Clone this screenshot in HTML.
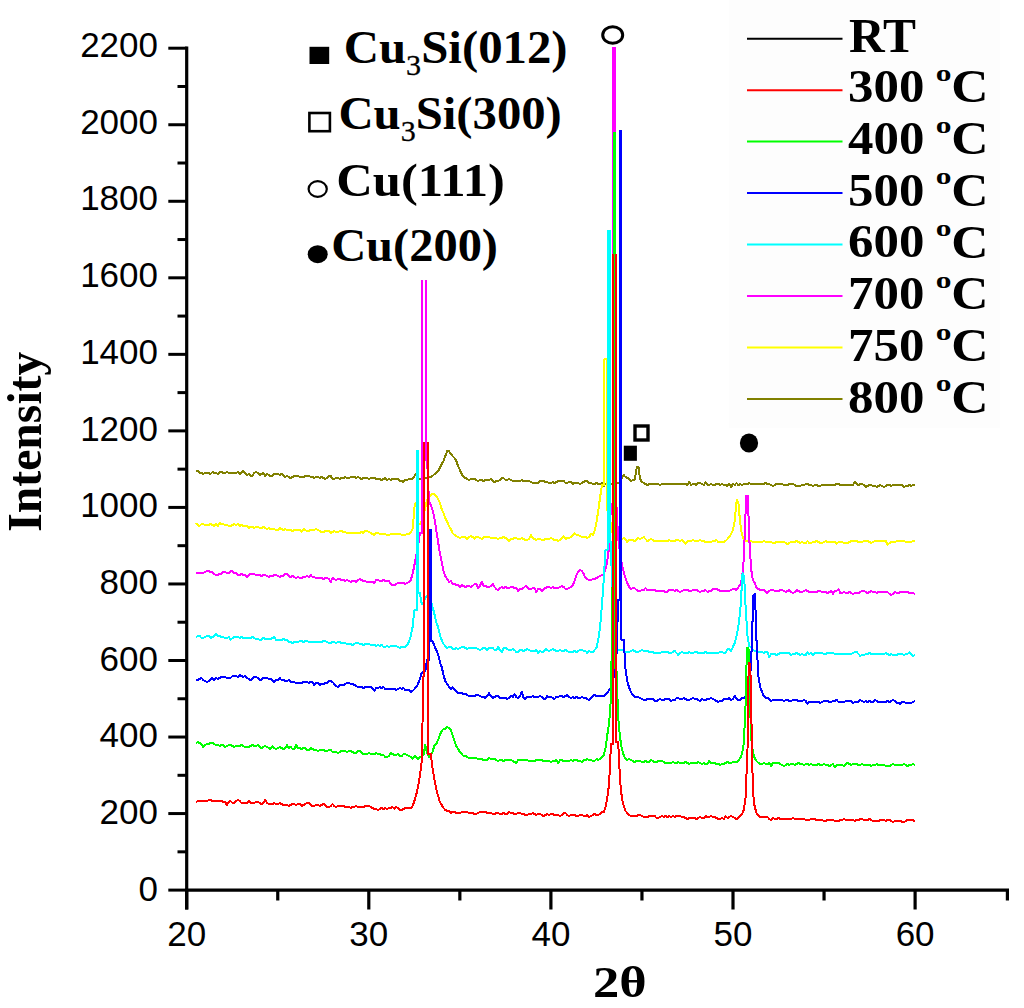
<!DOCTYPE html>
<html><head><meta charset="utf-8"><title>XRD</title>
<style>html,body{margin:0;padding:0;background:#fff;width:1024px;height:1008px;overflow:hidden} svg{display:block}</style>
</head><body>
<svg width="1024" height="1008" viewBox="0 0 1024 1008">
<style>
.tk { font-family: "Liberation Sans", sans-serif; font-size: 35px; fill:#000; }
.bs { font-family: "Liberation Serif", serif; font-weight: bold; font-size: 47px; fill:#000; }
</style>
<rect width="1024" height="1008" fill="#fff"/>
<rect x="729" y="0" width="271" height="428" fill="#fdfdfd"/>
<g fill="none" stroke="#808000" stroke-width="2" stroke-linejoin="round" shape-rendering="crispEdges"><polyline points="196.0,471.0 197.8,471.0 199.6,473.0 201.5,473.0 203.3,474.0 205.1,473.0 206.9,473.0 208.7,473.0 210.6,474.0 212.4,472.0 214.2,473.0 216.0,473.0 217.8,474.0 219.7,472.0 221.5,472.0 223.3,473.0 225.1,473.0 226.9,472.0 228.8,473.0 230.6,473.0 232.4,473.0 234.2,473.0 236.0,473.0 237.9,472.0 239.7,474.0 241.5,473.0 243.3,471.0 245.1,473.0 247.0,475.0 248.8,474.0 250.6,476.0 252.4,476.0 254.2,473.0 256.1,472.0 257.9,473.0 259.7,475.0 261.5,474.0 263.3,473.0 265.2,476.0 267.0,474.0 268.8,475.0 270.6,476.0 272.4,476.0 274.3,474.0 276.1,474.0 277.9,474.0 279.7,475.0 281.5,474.0 283.4,475.0 285.2,477.0 287.0,476.0 288.8,477.0 290.6,478.0 292.5,477.0 294.3,476.0 296.1,476.0 297.9,476.0 299.7,477.0 301.6,477.0 303.4,477.0 305.2,476.0 307.0,476.0 308.8,476.0 310.7,477.0 312.5,477.0 314.3,478.0 316.1,477.0 317.9,477.0 319.8,478.0 321.6,477.0 323.4,478.0 325.2,479.0 327.0,478.0 328.9,476.0 330.7,476.0 332.5,479.0 334.3,479.0 336.1,478.0 338.0,478.0 339.8,479.0 341.6,478.0 343.4,478.0 345.2,477.0 347.1,478.0 348.9,478.0 350.7,477.0 352.5,477.0 354.3,477.0 356.2,478.0 358.0,477.0 359.8,478.0 361.6,479.0 363.4,478.0 365.3,478.0 367.1,478.0 368.9,479.0 370.7,478.0 372.5,478.0 374.4,478.0 376.2,479.0 378.0,479.0 379.8,479.0 381.6,480.0 383.5,479.0 385.3,478.0 387.1,480.0 388.9,479.0 390.7,480.0 392.6,479.0 394.4,479.0 396.2,479.0 398.0,479.0 399.8,481.0 401.7,481.0 403.5,482.0 405.3,480.0 407.1,480.0 408.9,479.0 410.8,479.0 412.6,479.0 414.4,476.0 416.2,474.0 418.0,478.0 419.9,479.0 421.7,479.0 423.5,479.0 425.3,478.0 427.1,478.0 429.0,477.0 430.8,477.0 432.6,476.0 434.4,474.0 436.2,473.0 438.1,471.0 439.9,468.0 441.7,464.0 443.5,461.0 445.3,456.0 447.2,451.0 449.0,451.0 450.8,454.0 452.6,456.0 454.4,458.0 456.3,461.0 458.1,466.0 459.9,470.0 461.7,474.0 463.5,477.0 465.4,478.0 467.2,479.0 469.0,480.0 470.8,479.0 472.6,479.0 474.5,479.0 476.3,480.0 478.1,481.0 479.9,480.0 481.7,480.0 483.6,481.0 485.4,480.0 487.2,480.0 489.0,480.0 490.8,479.0 492.7,481.0 494.5,482.0 496.3,481.0 498.1,481.0 499.9,480.0 501.8,478.0 503.6,478.0 505.4,480.0 507.2,480.0 509.0,479.0 510.9,480.0 512.7,481.0 514.5,481.0 516.3,481.0 518.1,481.0 520.0,481.0 521.8,480.0 523.6,481.0 525.4,481.0 527.2,481.0 529.1,481.0 530.9,482.0 532.7,483.0 534.5,483.0 536.3,483.0 538.2,483.0 540.0,481.0 541.8,481.0 543.6,481.0 545.4,482.0 547.3,482.0 549.1,483.0 550.9,483.0 552.7,482.0 554.5,483.0 556.4,482.0 558.2,481.0 560.0,481.0 561.8,481.0 563.6,481.0 565.5,483.0 567.3,483.0 569.1,482.0 570.9,482.0 572.7,484.0 574.6,483.0 576.4,483.0 578.2,483.0 580.0,484.0 581.8,483.0 583.7,482.0 585.5,481.0 587.3,481.0 589.1,483.0 590.9,483.0 592.8,484.0 594.6,484.0 596.4,483.0 598.2,484.0 600.0,484.0 601.9,483.0 603.7,486.0 605.5,484.0 607.3,483.0 609.1,483.0 611.0,484.0 612.8,484.0 614.6,483.0 616.4,483.0 618.2,483.0 620.1,482.0 621.9,478.0 623.7,475.0 625.5,477.0 627.3,478.0 629.2,479.0 631.0,481.0 632.8,480.0 634.6,480.0 636.9,467.0 638.5,467.0 640.1,479.0 641.9,482.0 643.7,483.0 645.5,484.0 647.4,485.0 649.2,484.0 651.0,484.0 652.8,484.0 654.6,484.0 656.5,484.0 658.3,484.0 660.1,485.0 661.9,484.0 663.7,484.0 665.6,484.0 667.4,484.0 669.2,484.0 671.0,484.0 672.8,484.0 674.7,484.0 676.5,484.0 678.3,484.0 680.1,484.0 681.9,484.0 683.8,484.0 685.6,484.0 687.4,485.0 689.2,482.0 691.0,485.0 692.9,484.0 694.7,484.0 696.5,485.0 698.3,483.0 700.1,483.0 702.0,484.0 703.8,485.0 705.6,482.0 707.4,485.0 709.2,485.0 711.1,484.0 712.9,485.0 714.7,485.0 716.5,484.0 718.3,484.0 720.2,485.0 722.0,484.0 723.8,485.0 725.6,485.0 727.4,486.0 729.3,484.0 731.1,487.0 732.9,484.0 734.7,485.0 736.5,483.0 738.4,485.0 740.2,484.0 742.0,485.0 743.8,484.0 745.6,484.0 747.5,484.0 749.3,483.0 751.1,484.0 752.9,484.0 754.7,484.0 756.6,484.0 758.4,484.0 760.2,484.0 762.0,484.0 763.8,484.0 765.7,483.0 767.5,484.0 769.3,484.0 771.1,485.0 772.9,486.0 774.8,485.0 776.6,484.0 778.4,484.0 780.2,484.0 782.0,484.0 783.9,485.0 785.7,485.0 787.5,485.0 789.3,484.0 791.1,484.0 793.0,484.0 794.8,485.0 796.6,486.0 798.4,486.0 800.2,486.0 802.1,485.0 803.9,485.0 805.7,484.0 807.5,484.0 809.3,485.0 811.2,485.0 813.0,486.0 814.8,485.0 816.6,485.0 818.4,486.0 820.3,486.0 822.1,485.0 823.9,485.0 825.7,485.0 827.5,485.0 829.4,485.0 831.2,485.0 833.0,485.0 834.8,485.0 836.6,484.0 838.5,484.0 840.3,485.0 842.1,485.0 843.9,485.0 845.7,485.0 847.6,485.0 849.4,485.0 851.2,485.0 853.0,485.0 854.8,482.0 856.7,484.0 858.5,485.0 860.3,484.0 862.1,484.0 863.9,485.0 865.8,487.0 867.6,486.0 869.4,485.0 871.2,485.0 873.0,486.0 874.9,486.0 876.7,487.0 878.5,486.0 880.3,485.0 882.1,486.0 884.0,487.0 885.8,486.0 887.6,485.0 889.4,485.0 891.2,486.0 893.1,485.0 894.9,485.0 896.7,485.0 898.5,485.0 900.3,485.0 902.2,485.0 904.0,487.0 905.8,486.0 907.6,486.0 909.4,485.0 911.3,486.0 913.1,485.0 914.9,485.0"/></g>
<g fill="none" stroke="#ffff00" stroke-width="2" stroke-linejoin="round" shape-rendering="crispEdges"><polyline points="196.0,523.0 197.8,525.0 199.6,526.0 201.5,524.0 203.3,524.0 205.1,525.0 206.9,525.0 208.7,525.0 210.6,524.0 212.4,525.0 214.2,526.0 216.0,524.0 217.8,526.0 219.7,523.0 221.5,524.0 223.3,524.0 225.1,525.0 226.9,525.0 228.8,526.0 230.6,526.0 232.4,525.0 234.2,524.0 236.0,525.0 237.9,524.0 239.7,526.0 241.5,525.0 243.3,526.0 245.1,526.0 247.0,526.0 248.8,528.0 250.6,527.0 252.4,527.0 254.2,528.0 256.1,527.0 257.9,527.0 259.7,528.0 261.5,528.0 263.3,527.0 265.2,528.0 267.0,529.0 268.8,528.0 270.6,529.0 272.4,529.0 274.3,529.0 276.1,530.0 277.9,530.0 279.7,528.0 281.5,529.0 283.4,530.0 285.2,529.0 287.0,530.0 288.8,530.0 290.6,530.0 292.5,531.0 294.3,530.0 296.1,530.0 297.9,530.0 299.7,530.0 301.6,532.0 303.4,529.0 305.2,530.0 307.0,531.0 308.8,531.0 310.7,530.0 312.5,530.0 314.3,530.0 316.1,529.0 317.9,530.0 319.8,531.0 321.6,532.0 323.4,532.0 325.2,531.0 327.0,531.0 328.9,531.0 330.7,533.0 332.5,532.0 334.3,531.0 336.1,532.0 338.0,532.0 339.8,531.0 341.6,531.0 343.4,532.0 345.2,532.0 347.1,533.0 348.9,533.0 350.7,533.0 352.5,533.0 354.3,533.0 356.2,533.0 358.0,533.0 359.8,533.0 361.6,532.0 363.4,533.0 365.3,531.0 367.1,531.0 368.9,532.0 370.7,533.0 372.5,534.0 374.4,535.0 376.2,533.0 378.0,533.0 379.8,534.0 381.6,534.0 383.5,534.0 385.3,534.0 387.1,535.0 388.9,535.0 390.7,534.0 392.6,534.0 394.4,534.0 396.2,534.0 398.0,534.0 399.8,534.0 401.7,535.0 403.5,535.0 405.3,535.0 407.1,534.0 408.9,534.0 410.8,532.0 412.6,529.0 414.8,504.0 416.4,503.0 418.0,523.0 419.9,524.0 421.7,521.0 423.5,515.0 425.3,508.0 427.1,500.0 429.0,497.0 430.8,495.0 432.6,494.0 434.4,494.0 436.2,496.0 438.1,499.0 439.9,503.0 441.7,509.0 443.5,513.0 445.3,518.0 447.2,522.0 449.0,526.0 450.8,529.0 452.6,533.0 454.4,535.0 456.3,536.0 458.1,537.0 459.9,538.0 461.7,537.0 463.5,537.0 465.4,537.0 467.2,539.0 469.0,537.0 470.8,536.0 472.6,537.0 474.5,539.0 476.3,537.0 478.1,537.0 479.9,538.0 481.7,539.0 483.6,537.0 485.4,537.0 487.2,537.0 489.0,537.0 490.8,538.0 492.7,538.0 494.5,538.0 496.3,538.0 498.1,539.0 499.9,538.0 501.8,538.0 503.6,537.0 505.4,538.0 507.2,539.0 509.0,541.0 510.9,539.0 512.7,539.0 514.5,538.0 516.3,538.0 518.1,539.0 520.0,539.0 521.8,538.0 523.6,539.0 525.4,540.0 527.2,540.0 529.1,539.0 530.9,535.0 532.7,538.0 534.5,539.0 536.3,540.0 538.2,539.0 540.0,539.0 541.8,540.0 543.6,540.0 545.4,539.0 547.3,539.0 549.1,539.0 550.9,538.0 552.7,539.0 554.5,540.0 556.4,540.0 558.2,541.0 560.0,540.0 561.8,538.0 563.6,536.0 565.5,539.0 567.3,538.0 569.1,538.0 570.9,537.0 572.7,535.0 574.6,533.0 576.4,535.0 578.2,535.0 580.0,536.0 581.8,537.0 583.7,537.0 585.5,537.0 587.3,538.0 589.1,537.0 590.9,534.0 592.8,535.0 594.6,531.0 596.4,523.0 598.2,511.0 600.0,498.0 601.9,485.0 604.4,485.0 604.4,359.0 606.8,359.0 606.8,510.0 609.1,510.0 611.0,526.0 612.8,534.0 614.6,538.0 616.4,538.0 618.2,539.0 620.1,539.0 621.9,539.0 623.7,538.0 625.5,539.0 627.3,542.0 629.2,540.0 631.0,540.0 632.8,540.0 634.6,541.0 636.4,540.0 638.3,538.0 640.1,539.0 641.9,538.0 643.7,537.0 645.5,539.0 647.4,541.0 649.2,540.0 651.0,539.0 652.8,540.0 654.6,541.0 656.5,541.0 658.3,541.0 660.1,541.0 661.9,541.0 663.7,541.0 665.6,541.0 667.4,541.0 669.2,540.0 671.0,541.0 672.8,541.0 674.7,541.0 676.5,540.0 678.3,540.0 680.1,541.0 681.9,540.0 683.8,542.0 685.6,544.0 687.4,541.0 689.2,541.0 691.0,541.0 692.9,540.0 694.7,541.0 696.5,541.0 698.3,541.0 700.1,540.0 702.0,541.0 703.8,541.0 705.6,542.0 707.4,542.0 709.2,542.0 711.1,542.0 712.9,541.0 714.7,541.0 716.5,540.0 718.3,542.0 720.2,542.0 722.0,542.0 723.8,542.0 725.6,541.0 727.4,539.0 729.3,537.0 731.1,534.0 732.9,530.0 734.7,521.0 736.7,500.0 738.3,502.0 740.2,523.0 742.0,535.0 743.8,539.0 745.6,541.0 747.5,541.0 749.3,541.0 751.1,541.0 752.9,542.0 754.7,542.0 756.6,542.0 758.4,542.0 760.2,542.0 762.0,542.0 763.8,541.0 765.7,542.0 767.5,542.0 769.3,542.0 771.1,542.0 772.9,543.0 774.8,543.0 776.6,542.0 778.4,542.0 780.2,542.0 782.0,542.0 783.9,542.0 785.7,543.0 787.5,544.0 789.3,543.0 791.1,542.0 793.0,542.0 794.8,542.0 796.6,541.0 798.4,542.0 800.2,543.0 802.1,542.0 803.9,543.0 805.7,543.0 807.5,541.0 809.3,543.0 811.2,543.0 813.0,542.0 814.8,542.0 816.6,541.0 818.4,542.0 820.3,543.0 822.1,543.0 823.9,542.0 825.7,541.0 827.5,542.0 829.4,542.0 831.2,542.0 833.0,542.0 834.8,542.0 836.6,544.0 838.5,542.0 840.3,542.0 842.1,542.0 843.9,543.0 845.7,543.0 847.6,543.0 849.4,542.0 851.2,541.0 853.0,541.0 854.8,541.0 856.7,541.0 858.5,542.0 860.3,542.0 862.1,542.0 863.9,541.0 865.8,541.0 867.6,541.0 869.4,542.0 871.2,543.0 873.0,542.0 874.9,541.0 876.7,541.0 878.5,541.0 880.3,541.0 882.1,541.0 884.0,541.0 885.8,541.0 887.6,545.0 889.4,543.0 891.2,542.0 893.1,542.0 894.9,542.0 896.7,541.0 898.5,541.0 900.3,541.0 902.2,541.0 904.0,541.0 905.8,542.0 907.6,542.0 909.4,542.0 911.3,542.0 913.1,541.0 914.9,541.0"/></g>
<g fill="none" stroke="#ff00ff" stroke-width="2" stroke-linejoin="round" shape-rendering="crispEdges"><polyline points="196.0,573.0 197.8,573.0 199.6,573.0 201.5,573.0 203.3,573.0 205.1,572.0 206.9,571.0 208.7,571.0 210.6,572.0 212.4,572.0 214.2,574.0 216.0,575.0 217.8,575.0 219.7,574.0 221.5,574.0 223.3,572.0 225.1,572.0 226.9,573.0 228.8,573.0 230.6,571.0 232.4,571.0 234.2,573.0 236.0,573.0 237.9,575.0 239.7,575.0 241.5,574.0 243.3,575.0 245.1,575.0 247.0,577.0 248.8,575.0 250.6,574.0 252.4,574.0 254.2,574.0 256.1,575.0 257.9,575.0 259.7,575.0 261.5,576.0 263.3,575.0 265.2,575.0 267.0,576.0 268.8,577.0 270.6,576.0 272.4,576.0 274.3,575.0 276.1,575.0 277.9,576.0 279.7,577.0 281.5,576.0 283.4,576.0 285.2,574.0 287.0,574.0 288.8,576.0 290.6,577.0 292.5,576.0 294.3,577.0 296.1,578.0 297.9,577.0 299.7,578.0 301.6,578.0 303.4,577.0 305.2,577.0 307.0,576.0 308.8,577.0 310.7,575.0 312.5,577.0 314.3,577.0 316.1,578.0 317.9,578.0 319.8,578.0 321.6,578.0 323.4,579.0 325.2,578.0 327.0,578.0 328.9,579.0 330.7,582.0 332.5,578.0 334.3,579.0 336.1,580.0 338.0,579.0 339.8,579.0 341.6,580.0 343.4,580.0 345.2,581.0 347.1,580.0 348.9,581.0 350.7,582.0 352.5,581.0 354.3,581.0 356.2,582.0 358.0,580.0 359.8,579.0 361.6,580.0 363.4,581.0 365.3,581.0 367.1,582.0 368.9,582.0 370.7,582.0 372.5,582.0 374.4,583.0 376.2,580.0 378.0,580.0 379.8,581.0 381.6,581.0 383.5,580.0 385.3,581.0 387.1,581.0 388.9,581.0 390.7,584.0 392.6,585.0 394.4,585.0 396.2,584.0 398.0,583.0 399.8,583.0 401.7,583.0 403.5,583.0 405.3,584.0 407.1,583.0 408.9,582.0 410.8,580.0 412.6,574.0 414.4,565.0 416.2,556.0 418.0,547.0 419.9,533.0 422.4,533.0 422.4,280.0"/><polyline points="426.2,280.0 426.2,460.0 427.1,460.0 429.0,501.0 430.8,505.0 432.6,510.0 434.4,518.0 436.2,530.0 438.1,542.0 439.9,553.0 441.7,562.0 443.5,571.0 445.3,576.0 447.2,579.0 449.0,582.0 450.8,581.0 452.6,584.0 454.4,584.0 456.3,585.0 458.1,585.0 459.9,587.0 461.7,585.0 463.5,586.0 465.4,587.0 467.2,586.0 469.0,586.0 470.8,587.0 472.6,586.0 474.5,584.0 476.3,584.0 478.1,588.0 479.9,586.0 481.7,582.0 483.6,586.0 485.4,586.0 487.2,587.0 489.0,587.0 490.8,586.0 492.7,584.0 494.5,587.0 496.3,589.0 498.1,590.0 499.9,588.0 501.8,587.0 503.6,588.0 505.4,587.0 507.2,588.0 509.0,588.0 510.9,587.0 512.7,587.0 514.5,588.0 516.3,588.0 518.1,591.0 520.0,589.0 521.8,589.0 523.6,588.0 525.4,586.0 527.2,587.0 529.1,589.0 530.9,589.0 532.7,588.0 534.5,588.0 536.3,592.0 538.2,589.0 540.0,589.0 541.8,591.0 543.6,589.0 545.4,588.0 547.3,587.0 549.1,587.0 550.9,588.0 552.7,587.0 554.5,588.0 556.4,588.0 558.2,588.0 560.0,587.0 561.8,586.0 563.6,587.0 565.5,589.0 567.3,589.0 569.1,588.0 570.9,587.0 572.7,585.0 574.6,581.0 576.4,575.0 578.2,572.0 580.0,570.0 581.8,571.0 583.7,574.0 585.5,578.0 587.3,579.0 589.1,580.0 590.9,580.0 592.8,579.0 594.6,579.0 596.4,578.0 598.2,577.0 600.0,576.0 601.9,575.0 603.7,574.0 605.5,569.0 607.3,561.0 609.1,547.0 611.0,504.0 612.5,504.0 612.5,47.9 614.7,47.9 614.7,505.0 616.4,505.0 618.2,539.0 620.1,553.0 621.9,564.0 623.7,572.0 625.5,578.0 627.3,583.0 629.2,587.0 631.0,589.0 632.8,588.0 634.6,588.0 636.4,590.0 638.3,591.0 640.1,591.0 641.9,590.0 643.7,590.0 645.5,588.0 647.4,590.0 649.2,590.0 651.0,590.0 652.8,590.0 654.6,590.0 656.5,591.0 658.3,591.0 660.1,591.0 661.9,591.0 663.7,591.0 665.6,592.0 667.4,592.0 669.2,590.0 671.0,590.0 672.8,590.0 674.7,591.0 676.5,590.0 678.3,591.0 680.1,592.0 681.9,591.0 683.8,590.0 685.6,590.0 687.4,590.0 689.2,591.0 691.0,591.0 692.9,590.0 694.7,590.0 696.5,590.0 698.3,591.0 700.1,592.0 702.0,591.0 703.8,591.0 705.6,590.0 707.4,592.0 709.2,591.0 711.1,591.0 712.9,589.0 714.7,589.0 716.5,589.0 718.3,590.0 720.2,591.0 722.0,591.0 723.8,591.0 725.6,591.0 727.4,591.0 729.3,591.0 731.1,590.0 732.9,589.0 734.7,589.0 736.5,590.0 738.4,587.0 740.2,585.0 742.0,578.0 743.8,559.0 746.2,496.0 747.8,496.0 749.3,539.0 751.1,569.0 752.9,580.0 754.7,583.0 756.6,588.0 758.4,589.0 760.2,590.0 762.0,590.0 763.8,590.0 765.7,592.0 767.5,593.0 769.3,591.0 771.1,590.0 772.9,590.0 774.8,591.0 776.6,591.0 778.4,591.0 780.2,590.0 782.0,590.0 783.9,591.0 785.7,592.0 787.5,591.0 789.3,590.0 791.1,592.0 793.0,593.0 794.8,592.0 796.6,590.0 798.4,591.0 800.2,592.0 802.1,592.0 803.9,591.0 805.7,590.0 807.5,591.0 809.3,592.0 811.2,592.0 813.0,592.0 814.8,592.0 816.6,592.0 818.4,591.0 820.3,591.0 822.1,592.0 823.9,592.0 825.7,592.0 827.5,593.0 829.4,592.0 831.2,591.0 833.0,594.0 834.8,591.0 836.6,591.0 838.5,589.0 840.3,593.0 842.1,593.0 843.9,592.0 845.7,593.0 847.6,593.0 849.4,592.0 851.2,593.0 853.0,594.0 854.8,593.0 856.7,593.0 858.5,593.0 860.3,592.0 862.1,591.0 863.9,591.0 865.8,592.0 867.6,593.0 869.4,592.0 871.2,591.0 873.0,592.0 874.9,592.0 876.7,593.0 878.5,592.0 880.3,592.0 882.1,592.0 884.0,592.0 885.8,592.0 887.6,592.0 889.4,594.0 891.2,595.0 893.1,594.0 894.9,592.0 896.7,593.0 898.5,593.0 900.3,592.0 902.2,592.0 904.0,592.0 905.8,592.0 907.6,592.0 909.4,593.0 911.3,593.0 913.1,593.0 914.9,594.0"/></g>
<g fill="none" stroke="#00ffff" stroke-width="2" stroke-linejoin="round" shape-rendering="crispEdges"><polyline points="196.0,637.0 197.8,636.0 199.6,636.0 201.5,638.0 203.3,638.0 205.1,637.0 206.9,636.0 208.7,636.0 210.6,638.0 212.4,637.0 214.2,636.0 216.0,634.0 217.8,636.0 219.7,636.0 221.5,637.0 223.3,637.0 225.1,638.0 226.9,638.0 228.8,637.0 230.6,640.0 232.4,638.0 234.2,637.0 236.0,637.0 237.9,637.0 239.7,638.0 241.5,637.0 243.3,638.0 245.1,638.0 247.0,638.0 248.8,638.0 250.6,638.0 252.4,637.0 254.2,638.0 256.1,639.0 257.9,639.0 259.7,640.0 261.5,640.0 263.3,638.0 265.2,639.0 267.0,639.0 268.8,639.0 270.6,639.0 272.4,638.0 274.3,637.0 276.1,640.0 277.9,640.0 279.7,640.0 281.5,640.0 283.4,639.0 285.2,640.0 287.0,640.0 288.8,642.0 290.6,642.0 292.5,643.0 294.3,642.0 296.1,642.0 297.9,642.0 299.7,641.0 301.6,641.0 303.4,642.0 305.2,641.0 307.0,641.0 308.8,642.0 310.7,642.0 312.5,642.0 314.3,642.0 316.1,642.0 317.9,642.0 319.8,642.0 321.6,642.0 323.4,641.0 325.2,641.0 327.0,642.0 328.9,643.0 330.7,643.0 332.5,642.0 334.3,642.0 336.1,643.0 338.0,642.0 339.8,642.0 341.6,643.0 343.4,643.0 345.2,643.0 347.1,644.0 348.9,644.0 350.7,644.0 352.5,645.0 354.3,644.0 356.2,643.0 358.0,643.0 359.8,644.0 361.6,644.0 363.4,645.0 365.3,644.0 367.1,644.0 368.9,644.0 370.7,645.0 372.5,645.0 374.4,645.0 376.2,646.0 378.0,645.0 379.8,646.0 381.6,645.0 383.5,647.0 385.3,647.0 387.1,646.0 388.9,647.0 390.7,646.0 392.6,646.0 394.4,646.0 396.2,646.0 398.0,647.0 399.8,648.0 401.7,647.0 403.5,647.0 405.3,647.0 407.1,645.0 408.9,642.0 410.8,636.0 412.6,627.0 414.4,610.0 416.7,610.0 416.7,450.6 418.3,450.6 418.3,593.0 419.9,593.0 421.7,604.0 423.5,603.0 425.3,598.0 427.1,596.0 429.0,596.0 430.8,600.0 432.6,607.0 434.4,614.0 436.2,622.0 438.1,627.0 439.9,635.0 441.7,640.0 443.5,644.0 445.3,646.0 447.2,648.0 449.0,647.0 450.8,647.0 452.6,649.0 454.4,649.0 456.3,648.0 458.1,649.0 459.9,648.0 461.7,647.0 463.5,647.0 465.4,648.0 467.2,649.0 469.0,648.0 470.8,648.0 472.6,648.0 474.5,648.0 476.3,648.0 478.1,649.0 479.9,650.0 481.7,649.0 483.6,648.0 485.4,648.0 487.2,650.0 489.0,648.0 490.8,648.0 492.7,648.0 494.5,650.0 496.3,650.0 498.1,647.0 499.9,650.0 501.8,652.0 503.6,648.0 505.4,648.0 507.2,649.0 509.0,650.0 510.9,650.0 512.7,649.0 514.5,650.0 516.3,652.0 518.1,652.0 520.0,650.0 521.8,650.0 523.6,651.0 525.4,650.0 527.2,649.0 529.1,650.0 530.9,651.0 532.7,651.0 534.5,651.0 536.3,650.0 538.2,653.0 540.0,651.0 541.8,652.0 543.6,652.0 545.4,649.0 547.3,650.0 549.1,651.0 550.9,650.0 552.7,649.0 554.5,650.0 556.4,651.0 558.2,651.0 560.0,650.0 561.8,651.0 563.6,651.0 565.5,650.0 567.3,651.0 569.1,652.0 570.9,652.0 572.7,652.0 574.6,651.0 576.4,652.0 578.2,651.0 580.0,650.0 581.8,650.0 583.7,651.0 585.5,651.0 587.3,653.0 589.1,651.0 590.9,652.0 592.8,652.0 594.6,650.0 596.4,648.0 598.2,640.0 600.0,628.0 601.9,606.0 603.7,580.0 605.5,550.0 607.5,550.0 607.5,231.3 609.9,231.3 609.9,542.0 611.0,542.0 612.8,628.0 614.6,643.0 616.4,648.0 618.2,650.0 620.1,650.0 621.9,650.0 623.7,651.0 625.5,652.0 627.3,652.0 629.2,652.0 631.0,651.0 632.8,650.0 634.6,651.0 636.4,652.0 638.3,652.0 640.1,651.0 641.9,650.0 643.7,651.0 645.5,651.0 647.4,651.0 649.2,652.0 651.0,652.0 652.8,652.0 654.6,653.0 656.5,653.0 658.3,653.0 660.1,653.0 661.9,652.0 663.7,652.0 665.6,652.0 667.4,652.0 669.2,653.0 671.0,653.0 672.8,652.0 674.7,651.0 676.5,653.0 678.3,655.0 680.1,653.0 681.9,652.0 683.8,653.0 685.6,653.0 687.4,653.0 689.2,652.0 691.0,653.0 692.9,653.0 694.7,652.0 696.5,652.0 698.3,653.0 700.1,653.0 702.0,653.0 703.8,653.0 705.6,652.0 707.4,653.0 709.2,653.0 711.1,653.0 712.9,653.0 714.7,653.0 716.5,653.0 718.3,653.0 720.2,652.0 722.0,652.0 723.8,653.0 725.6,653.0 727.4,649.0 729.3,649.0 731.1,651.0 732.9,647.0 734.7,643.0 736.5,636.0 738.4,626.0 740.2,612.0 742.6,573.0 744.2,577.0 745.6,607.0 747.5,636.0 749.3,646.0 751.1,647.0 752.9,650.0 754.7,651.0 756.6,651.0 758.4,652.0 760.2,652.0 762.0,652.0 763.8,653.0 765.7,652.0 767.5,652.0 769.3,657.0 771.1,654.0 772.9,654.0 774.8,654.0 776.6,655.0 778.4,654.0 780.2,653.0 782.0,653.0 783.9,653.0 785.7,653.0 787.5,653.0 789.3,653.0 791.1,655.0 793.0,654.0 794.8,654.0 796.6,653.0 798.4,654.0 800.2,655.0 802.1,654.0 803.9,655.0 805.7,655.0 807.5,652.0 809.3,654.0 811.2,653.0 813.0,655.0 814.8,653.0 816.6,653.0 818.4,653.0 820.3,653.0 822.1,653.0 823.9,654.0 825.7,654.0 827.5,653.0 829.4,653.0 831.2,653.0 833.0,653.0 834.8,654.0 836.6,654.0 838.5,654.0 840.3,654.0 842.1,654.0 843.9,654.0 845.7,654.0 847.6,654.0 849.4,654.0 851.2,654.0 853.0,653.0 854.8,652.0 856.7,652.0 858.5,654.0 860.3,656.0 862.1,655.0 863.9,655.0 865.8,654.0 867.6,654.0 869.4,653.0 871.2,654.0 873.0,654.0 874.9,654.0 876.7,654.0 878.5,654.0 880.3,654.0 882.1,654.0 884.0,654.0 885.8,653.0 887.6,654.0 889.4,655.0 891.2,654.0 893.1,655.0 894.9,655.0 896.7,655.0 898.5,654.0 900.3,654.0 902.2,654.0 904.0,655.0 905.8,654.0 907.6,654.0 909.4,652.0 911.3,654.0 913.1,656.0 914.9,655.0"/></g>
<g fill="none" stroke="#0000ff" stroke-width="2" stroke-linejoin="round" shape-rendering="crispEdges"><polyline points="196.0,680.0 197.8,680.0 199.6,679.0 201.5,678.0 203.3,680.0 205.1,681.0 206.9,682.0 208.7,681.0 210.6,679.0 212.4,678.0 214.2,680.0 216.0,678.0 217.8,679.0 219.7,678.0 221.5,677.0 223.3,677.0 225.1,677.0 226.9,678.0 228.8,678.0 230.6,678.0 232.4,676.0 234.2,676.0 236.0,676.0 237.9,677.0 239.7,675.0 241.5,676.0 243.3,677.0 245.1,676.0 247.0,678.0 248.8,679.0 250.6,680.0 252.4,679.0 254.2,677.0 256.1,677.0 257.9,678.0 259.7,680.0 261.5,680.0 263.3,678.0 265.2,678.0 267.0,678.0 268.8,679.0 270.6,679.0 272.4,680.0 274.3,682.0 276.1,680.0 277.9,680.0 279.7,678.0 281.5,680.0 283.4,680.0 285.2,681.0 287.0,681.0 288.8,680.0 290.6,682.0 292.5,682.0 294.3,682.0 296.1,683.0 297.9,683.0 299.7,683.0 301.6,683.0 303.4,682.0 305.2,682.0 307.0,682.0 308.8,683.0 310.7,682.0 312.5,682.0 314.3,685.0 316.1,683.0 317.9,683.0 319.8,685.0 321.6,684.0 323.4,684.0 325.2,683.0 327.0,683.0 328.9,681.0 330.7,681.0 332.5,682.0 334.3,684.0 336.1,686.0 338.0,687.0 339.8,685.0 341.6,685.0 343.4,685.0 345.2,684.0 347.1,683.0 348.9,683.0 350.7,684.0 352.5,684.0 354.3,685.0 356.2,686.0 358.0,687.0 359.8,687.0 361.6,687.0 363.4,688.0 365.3,687.0 367.1,687.0 368.9,687.0 370.7,687.0 372.5,688.0 374.4,691.0 376.2,688.0 378.0,688.0 379.8,687.0 381.6,688.0 383.5,687.0 385.3,689.0 387.1,689.0 388.9,689.0 390.7,689.0 392.6,689.0 394.4,689.0 396.2,690.0 398.0,689.0 399.8,688.0 401.7,689.0 403.5,688.0 405.3,690.0 407.1,690.0 408.9,690.0 410.8,692.0 412.6,691.0 414.4,689.0 416.2,687.0 418.0,684.0 419.9,679.0 421.7,673.0 423.5,671.0 425.3,671.0 427.1,660.0 429.3,660.0 429.3,529.6 430.7,529.6 430.7,641.0 432.6,641.0 434.4,646.0 436.2,650.0 438.1,654.0 439.9,662.0 441.7,667.0 443.5,675.0 445.3,681.0 447.2,684.0 449.0,687.0 450.8,689.0 452.6,687.0 454.4,690.0 456.3,691.0 458.1,693.0 459.9,693.0 461.7,693.0 463.5,694.0 465.4,694.0 467.2,695.0 469.0,696.0 470.8,696.0 472.6,696.0 474.5,696.0 476.3,695.0 478.1,695.0 479.9,696.0 481.7,697.0 483.6,697.0 485.4,698.0 487.2,696.0 489.0,693.0 490.8,696.0 492.7,698.0 494.5,697.0 496.3,696.0 498.1,696.0 499.9,698.0 501.8,698.0 503.6,698.0 505.4,698.0 507.2,699.0 509.0,698.0 510.9,696.0 512.7,697.0 514.5,694.0 516.3,697.0 518.1,698.0 520.0,696.0 521.8,692.0 523.6,698.0 525.4,699.0 527.2,697.0 529.1,697.0 530.9,697.0 532.7,696.0 534.5,697.0 536.3,697.0 538.2,697.0 540.0,696.0 541.8,697.0 543.6,699.0 545.4,699.0 547.3,696.0 549.1,697.0 550.9,697.0 552.7,698.0 554.5,699.0 556.4,697.0 558.2,697.0 560.0,696.0 561.8,696.0 563.6,697.0 565.5,696.0 567.3,695.0 569.1,697.0 570.9,698.0 572.7,697.0 574.6,698.0 576.4,697.0 578.2,698.0 580.0,698.0 581.8,697.0 583.7,698.0 585.5,698.0 587.3,699.0 589.1,700.0 590.9,698.0 592.8,696.0 594.6,695.0 596.4,696.0 598.2,696.0 600.0,696.0 601.9,696.0 603.7,696.0 605.5,695.0 607.3,693.0 609.1,690.0 611.0,688.0 612.8,682.0 614.6,672.0 616.4,658.0 618.2,600.0 619.8,600.0 619.8,131.0 621.4,131.0 621.4,640.0 623.7,640.0 625.5,669.0 627.3,681.0 629.2,688.0 631.0,692.0 632.8,695.0 634.6,697.0 636.4,697.0 638.3,697.0 640.1,698.0 641.9,699.0 643.7,700.0 645.5,700.0 647.4,699.0 649.2,699.0 651.0,699.0 652.8,699.0 654.6,701.0 656.5,701.0 658.3,700.0 660.1,699.0 661.9,700.0 663.7,700.0 665.6,699.0 667.4,699.0 669.2,699.0 671.0,701.0 672.8,700.0 674.7,700.0 676.5,698.0 678.3,698.0 680.1,699.0 681.9,699.0 683.8,698.0 685.6,699.0 687.4,700.0 689.2,700.0 691.0,699.0 692.9,698.0 694.7,699.0 696.5,699.0 698.3,700.0 700.1,701.0 702.0,699.0 703.8,700.0 705.6,700.0 707.4,699.0 709.2,699.0 711.1,698.0 712.9,699.0 714.7,700.0 716.5,701.0 718.3,702.0 720.2,701.0 722.0,701.0 723.8,699.0 725.6,699.0 727.4,699.0 729.3,698.0 731.1,700.0 732.9,699.0 734.7,696.0 736.5,699.0 738.4,700.0 740.2,700.0 742.0,698.0 743.8,698.0 745.6,696.0 747.5,692.0 749.3,685.0 751.1,664.0 753.4,595.0 755.0,594.0 756.6,643.0 758.4,676.0 760.2,687.0 762.0,692.0 763.8,696.0 765.7,698.0 767.5,698.0 769.3,699.0 771.1,701.0 772.9,700.0 774.8,700.0 776.6,700.0 778.4,700.0 780.2,700.0 782.0,700.0 783.9,701.0 785.7,700.0 787.5,700.0 789.3,701.0 791.1,701.0 793.0,700.0 794.8,700.0 796.6,700.0 798.4,701.0 800.2,701.0 802.1,701.0 803.9,700.0 805.7,701.0 807.5,704.0 809.3,702.0 811.2,702.0 813.0,702.0 814.8,702.0 816.6,702.0 818.4,702.0 820.3,703.0 822.1,702.0 823.9,701.0 825.7,701.0 827.5,701.0 829.4,702.0 831.2,702.0 833.0,701.0 834.8,701.0 836.6,700.0 838.5,702.0 840.3,702.0 842.1,702.0 843.9,702.0 845.7,701.0 847.6,701.0 849.4,701.0 851.2,701.0 853.0,703.0 854.8,702.0 856.7,702.0 858.5,702.0 860.3,700.0 862.1,701.0 863.9,702.0 865.8,701.0 867.6,702.0 869.4,701.0 871.2,702.0 873.0,702.0 874.9,700.0 876.7,701.0 878.5,702.0 880.3,702.0 882.1,702.0 884.0,702.0 885.8,702.0 887.6,701.0 889.4,702.0 891.2,701.0 893.1,700.0 894.9,701.0 896.7,703.0 898.5,703.0 900.3,704.0 902.2,702.0 904.0,702.0 905.8,703.0 907.6,703.0 909.4,703.0 911.3,703.0 913.1,702.0 914.9,701.0"/></g>
<g fill="none" stroke="#00ff00" stroke-width="2" stroke-linejoin="round" shape-rendering="crispEdges"><polyline points="196.0,743.0 197.8,742.0 199.6,743.0 201.5,744.0 203.3,747.0 205.1,745.0 206.9,744.0 208.7,744.0 210.6,743.0 212.4,743.0 214.2,744.0 216.0,745.0 217.8,745.0 219.7,746.0 221.5,745.0 223.3,745.0 225.1,747.0 226.9,746.0 228.8,745.0 230.6,745.0 232.4,746.0 234.2,747.0 236.0,746.0 237.9,746.0 239.7,746.0 241.5,745.0 243.3,746.0 245.1,747.0 247.0,747.0 248.8,747.0 250.6,746.0 252.4,745.0 254.2,746.0 256.1,746.0 257.9,745.0 259.7,747.0 261.5,748.0 263.3,747.0 265.2,746.0 267.0,747.0 268.8,748.0 270.6,749.0 272.4,746.0 274.3,748.0 276.1,749.0 277.9,748.0 279.7,747.0 281.5,748.0 283.4,749.0 285.2,748.0 287.0,745.0 288.8,748.0 290.6,747.0 292.5,749.0 294.3,749.0 296.1,745.0 297.9,748.0 299.7,748.0 301.6,749.0 303.4,748.0 305.2,748.0 307.0,750.0 308.8,750.0 310.7,748.0 312.5,749.0 314.3,750.0 316.1,750.0 317.9,751.0 319.8,750.0 321.6,750.0 323.4,750.0 325.2,751.0 327.0,751.0 328.9,750.0 330.7,750.0 332.5,752.0 334.3,752.0 336.1,752.0 338.0,753.0 339.8,752.0 341.6,751.0 343.4,751.0 345.2,751.0 347.1,752.0 348.9,751.0 350.7,751.0 352.5,752.0 354.3,753.0 356.2,753.0 358.0,751.0 359.8,751.0 361.6,753.0 363.4,754.0 365.3,754.0 367.1,754.0 368.9,753.0 370.7,754.0 372.5,754.0 374.4,754.0 376.2,753.0 378.0,754.0 379.8,754.0 381.6,755.0 383.5,755.0 385.3,757.0 387.1,757.0 388.9,756.0 390.7,753.0 392.6,754.0 394.4,755.0 396.2,755.0 398.0,754.0 399.8,756.0 401.7,756.0 403.5,754.0 405.3,754.0 407.1,755.0 408.9,756.0 410.8,757.0 412.6,759.0 414.4,756.0 416.2,757.0 418.0,759.0 419.9,757.0 421.7,757.0 423.5,755.0 425.3,745.0 427.1,753.0 429.0,757.0 430.8,754.0 432.6,752.0 434.4,745.0 436.2,744.0 438.1,740.0 439.9,735.0 441.7,731.0 443.5,729.0 445.3,729.0 447.2,727.0 449.0,728.0 450.8,730.0 452.6,735.0 454.4,741.0 456.3,746.0 458.1,749.0 459.9,752.0 461.7,754.0 463.5,756.0 465.4,756.0 467.2,757.0 469.0,758.0 470.8,758.0 472.6,758.0 474.5,758.0 476.3,758.0 478.1,759.0 479.9,759.0 481.7,759.0 483.6,760.0 485.4,760.0 487.2,760.0 489.0,758.0 490.8,759.0 492.7,759.0 494.5,759.0 496.3,760.0 498.1,761.0 499.9,760.0 501.8,760.0 503.6,761.0 505.4,760.0 507.2,760.0 509.0,760.0 510.9,760.0 512.7,761.0 514.5,762.0 516.3,763.0 518.1,760.0 520.0,760.0 521.8,760.0 523.6,760.0 525.4,760.0 527.2,760.0 529.1,761.0 530.9,761.0 532.7,761.0 534.5,761.0 536.3,760.0 538.2,760.0 540.0,760.0 541.8,760.0 543.6,761.0 545.4,761.0 547.3,761.0 549.1,761.0 550.9,762.0 552.7,761.0 554.5,761.0 556.4,760.0 558.2,763.0 560.0,760.0 561.8,760.0 563.6,761.0 565.5,761.0 567.3,761.0 569.1,761.0 570.9,760.0 572.7,761.0 574.6,760.0 576.4,760.0 578.2,761.0 580.0,761.0 581.8,762.0 583.7,760.0 585.5,760.0 587.3,759.0 589.1,760.0 590.9,760.0 592.8,761.0 594.6,761.0 596.4,759.0 598.2,760.0 600.0,759.0 601.9,757.0 603.7,755.0 605.5,748.0 607.3,735.0 609.1,723.0 611.0,698.0 612.8,566.0 613.8,566.0 613.8,132.5 614.6,132.5 614.6,668.0 616.4,668.0 618.2,718.0 620.1,738.0 621.9,749.0 623.7,755.0 625.5,759.0 627.3,760.0 629.2,759.0 631.0,760.0 632.8,761.0 634.6,762.0 636.4,761.0 638.3,761.0 640.1,761.0 641.9,762.0 643.7,762.0 645.5,761.0 647.4,762.0 649.2,762.0 651.0,760.0 652.8,761.0 654.6,762.0 656.5,762.0 658.3,761.0 660.1,761.0 661.9,761.0 663.7,762.0 665.6,763.0 667.4,763.0 669.2,763.0 671.0,763.0 672.8,762.0 674.7,763.0 676.5,763.0 678.3,762.0 680.1,763.0 681.9,763.0 683.8,763.0 685.6,762.0 687.4,763.0 689.2,764.0 691.0,763.0 692.9,763.0 694.7,763.0 696.5,763.0 698.3,762.0 700.1,763.0 702.0,764.0 703.8,763.0 705.6,764.0 707.4,764.0 709.2,761.0 711.1,763.0 712.9,763.0 714.7,763.0 716.5,764.0 718.3,764.0 720.2,765.0 722.0,764.0 723.8,764.0 725.6,763.0 727.4,762.0 729.3,763.0 731.1,763.0 732.9,762.0 734.7,762.0 736.5,762.0 738.4,761.0 740.2,758.0 742.0,754.0 743.8,743.0 745.6,704.0 746.9,648.0 748.5,648.0 751.1,738.0 752.9,752.0 754.7,758.0 756.6,761.0 758.4,763.0 760.2,764.0 762.0,764.0 763.8,763.0 765.7,764.0 767.5,764.0 769.3,763.0 771.1,766.0 772.9,763.0 774.8,763.0 776.6,763.0 778.4,763.0 780.2,764.0 782.0,765.0 783.9,766.0 785.7,765.0 787.5,764.0 789.3,765.0 791.1,764.0 793.0,764.0 794.8,765.0 796.6,764.0 798.4,763.0 800.2,764.0 802.1,764.0 803.9,765.0 805.7,764.0 807.5,764.0 809.3,765.0 811.2,764.0 813.0,765.0 814.8,765.0 816.6,765.0 818.4,764.0 820.3,765.0 822.1,765.0 823.9,764.0 825.7,765.0 827.5,765.0 829.4,766.0 831.2,765.0 833.0,764.0 834.8,767.0 836.6,765.0 838.5,765.0 840.3,765.0 842.1,765.0 843.9,766.0 845.7,764.0 847.6,763.0 849.4,764.0 851.2,765.0 853.0,764.0 854.8,764.0 856.7,764.0 858.5,765.0 860.3,765.0 862.1,764.0 863.9,765.0 865.8,765.0 867.6,765.0 869.4,765.0 871.2,766.0 873.0,765.0 874.9,765.0 876.7,764.0 878.5,765.0 880.3,765.0 882.1,765.0 884.0,765.0 885.8,766.0 887.6,766.0 889.4,766.0 891.2,765.0 893.1,764.0 894.9,765.0 896.7,765.0 898.5,765.0 900.3,765.0 902.2,765.0 904.0,764.0 905.8,765.0 907.6,766.0 909.4,765.0 911.3,765.0 913.1,764.0 914.9,765.0"/></g>
<g fill="none" stroke="#ff0000" stroke-width="2" stroke-linejoin="round" shape-rendering="crispEdges"><polyline points="196.0,802.0 197.8,801.0 199.6,801.0 201.5,801.0 203.3,801.0 205.1,801.0 206.9,801.0 208.7,800.0 210.6,800.0 212.4,801.0 214.2,801.0 216.0,801.0 217.8,801.0 219.7,801.0 221.5,801.0 223.3,802.0 225.1,802.0 226.9,805.0 228.8,802.0 230.6,801.0 232.4,803.0 234.2,803.0 236.0,801.0 237.9,800.0 239.7,801.0 241.5,803.0 243.3,803.0 245.1,803.0 247.0,803.0 248.8,801.0 250.6,803.0 252.4,803.0 254.2,803.0 256.1,802.0 257.9,802.0 259.7,803.0 261.5,804.0 263.3,803.0 265.2,800.0 267.0,803.0 268.8,804.0 270.6,804.0 272.4,804.0 274.3,803.0 276.1,804.0 277.9,804.0 279.7,803.0 281.5,804.0 283.4,805.0 285.2,805.0 287.0,805.0 288.8,806.0 290.6,805.0 292.5,804.0 294.3,804.0 296.1,805.0 297.9,804.0 299.7,804.0 301.6,806.0 303.4,805.0 305.2,804.0 307.0,803.0 308.8,803.0 310.7,805.0 312.5,806.0 314.3,806.0 316.1,805.0 317.9,805.0 319.8,806.0 321.6,805.0 323.4,804.0 325.2,805.0 327.0,807.0 328.9,807.0 330.7,806.0 332.5,804.0 334.3,806.0 336.1,807.0 338.0,806.0 339.8,806.0 341.6,806.0 343.4,806.0 345.2,807.0 347.1,807.0 348.9,807.0 350.7,808.0 352.5,807.0 354.3,807.0 356.2,806.0 358.0,807.0 359.8,807.0 361.6,807.0 363.4,807.0 365.3,806.0 367.1,806.0 368.9,806.0 370.7,807.0 372.5,808.0 374.4,809.0 376.2,809.0 378.0,810.0 379.8,809.0 381.6,808.0 383.5,809.0 385.3,808.0 387.1,809.0 388.9,808.0 390.7,808.0 392.6,807.0 394.4,809.0 396.2,807.0 398.0,808.0 399.8,810.0 401.7,810.0 403.5,809.0 405.3,808.0 407.1,808.0 408.9,808.0 410.8,808.0 412.6,806.0 414.4,801.0 416.2,795.0 418.0,787.0 419.9,776.0 421.7,761.0 423.5,676.0 424.3,676.0 424.3,441.6"/><polyline points="428.3,441.6 428.3,754.0 430.8,754.0 432.6,769.0 434.4,779.0 436.2,789.0 438.1,796.0 439.9,802.0 441.7,805.0 443.5,808.0 445.3,810.0 447.2,811.0 449.0,811.0 450.8,813.0 452.6,812.0 454.4,812.0 456.3,813.0 458.1,813.0 459.9,813.0 461.7,812.0 463.5,812.0 465.4,812.0 467.2,812.0 469.0,813.0 470.8,813.0 472.6,813.0 474.5,814.0 476.3,814.0 478.1,813.0 479.9,812.0 481.7,812.0 483.6,812.0 485.4,812.0 487.2,813.0 489.0,813.0 490.8,813.0 492.7,814.0 494.5,814.0 496.3,813.0 498.1,813.0 499.9,814.0 501.8,814.0 503.6,813.0 505.4,814.0 507.2,814.0 509.0,812.0 510.9,813.0 512.7,813.0 514.5,814.0 516.3,814.0 518.1,813.0 520.0,813.0 521.8,814.0 523.6,814.0 525.4,815.0 527.2,815.0 529.1,814.0 530.9,814.0 532.7,813.0 534.5,814.0 536.3,815.0 538.2,814.0 540.0,814.0 541.8,815.0 543.6,816.0 545.4,815.0 547.3,814.0 549.1,815.0 550.9,814.0 552.7,814.0 554.5,815.0 556.4,815.0 558.2,815.0 560.0,816.0 561.8,815.0 563.6,813.0 565.5,813.0 567.3,815.0 569.1,816.0 570.9,815.0 572.7,815.0 574.6,815.0 576.4,816.0 578.2,816.0 580.0,815.0 581.8,815.0 583.7,816.0 585.5,816.0 587.3,815.0 589.1,817.0 590.9,816.0 592.8,815.0 594.6,814.0 596.4,815.0 598.2,815.0 600.0,814.0 601.9,812.0 603.7,812.0 605.5,807.0 607.3,798.0 609.1,784.0 611.0,744.0 613.0,744.0 613.0,253.6"/><polyline points="616.2,253.6 616.2,742.0 618.2,742.0 620.1,781.0 621.9,798.0 623.7,806.0 625.5,811.0 627.3,813.0 629.2,815.0 631.0,816.0 632.8,816.0 634.6,816.0 636.4,816.0 638.3,815.0 640.1,815.0 641.9,816.0 643.7,817.0 645.5,817.0 647.4,817.0 649.2,816.0 651.0,816.0 652.8,816.0 654.6,816.0 656.5,818.0 658.3,818.0 660.1,817.0 661.9,816.0 663.7,817.0 665.6,816.0 667.4,817.0 669.2,816.0 671.0,817.0 672.8,816.0 674.7,817.0 676.5,816.0 678.3,816.0 680.1,816.0 681.9,817.0 683.8,817.0 685.6,818.0 687.4,819.0 689.2,818.0 691.0,818.0 692.9,818.0 694.7,818.0 696.5,819.0 698.3,818.0 700.1,817.0 702.0,818.0 703.8,818.0 705.6,816.0 707.4,817.0 709.2,817.0 711.1,816.0 712.9,817.0 714.7,817.0 716.5,818.0 718.3,819.0 720.2,819.0 722.0,818.0 723.8,819.0 725.6,816.0 727.4,818.0 729.3,817.0 731.1,816.0 732.9,817.0 734.7,818.0 736.5,819.0 738.4,818.0 740.2,816.0 742.0,814.0 743.8,810.0 745.6,797.0 747.5,750.0 748.7,663.0 750.3,664.0 752.9,792.0 754.7,807.0 756.6,813.0 758.4,816.0 760.2,817.0 762.0,817.0 763.8,817.0 765.7,817.0 767.5,817.0 769.3,819.0 771.1,820.0 772.9,818.0 774.8,819.0 776.6,819.0 778.4,818.0 780.2,819.0 782.0,819.0 783.9,819.0 785.7,819.0 787.5,819.0 789.3,819.0 791.1,819.0 793.0,818.0 794.8,819.0 796.6,819.0 798.4,819.0 800.2,819.0 802.1,819.0 803.9,819.0 805.7,820.0 807.5,820.0 809.3,820.0 811.2,819.0 813.0,819.0 814.8,819.0 816.6,820.0 818.4,820.0 820.3,820.0 822.1,820.0 823.9,821.0 825.7,821.0 827.5,820.0 829.4,820.0 831.2,820.0 833.0,820.0 834.8,821.0 836.6,821.0 838.5,821.0 840.3,820.0 842.1,820.0 843.9,819.0 845.7,820.0 847.6,820.0 849.4,820.0 851.2,820.0 853.0,820.0 854.8,821.0 856.7,820.0 858.5,820.0 860.3,819.0 862.1,819.0 863.9,820.0 865.8,820.0 867.6,820.0 869.4,819.0 871.2,820.0 873.0,821.0 874.9,821.0 876.7,821.0 878.5,821.0 880.3,820.0 882.1,820.0 884.0,820.0 885.8,821.0 887.6,820.0 889.4,820.0 891.2,821.0 893.1,822.0 894.9,821.0 896.7,821.0 898.5,821.0 900.3,821.0 902.2,822.0 904.0,822.0 905.8,821.0 907.6,820.0 909.4,820.0 911.3,820.0 913.1,820.0 914.9,822.0"/></g>
<line x1="186.7" y1="46.6" x2="186.7" y2="909.5" stroke="#000" stroke-width="3.2"/>
<line x1="185.1" y1="890.1" x2="1009" y2="890.1" stroke="#000" stroke-width="3.2"/>
<line x1="168.3" y1="890.10" x2="186.7" y2="890.10" stroke="#000" stroke-width="3"/>
<line x1="177.5" y1="851.83" x2="186.7" y2="851.83" stroke="#000" stroke-width="3"/>
<line x1="168.3" y1="813.56" x2="186.7" y2="813.56" stroke="#000" stroke-width="3"/>
<line x1="177.5" y1="775.30" x2="186.7" y2="775.30" stroke="#000" stroke-width="3"/>
<line x1="168.3" y1="737.03" x2="186.7" y2="737.03" stroke="#000" stroke-width="3"/>
<line x1="177.5" y1="698.76" x2="186.7" y2="698.76" stroke="#000" stroke-width="3"/>
<line x1="168.3" y1="660.49" x2="186.7" y2="660.49" stroke="#000" stroke-width="3"/>
<line x1="177.5" y1="622.22" x2="186.7" y2="622.22" stroke="#000" stroke-width="3"/>
<line x1="168.3" y1="583.96" x2="186.7" y2="583.96" stroke="#000" stroke-width="3"/>
<line x1="177.5" y1="545.69" x2="186.7" y2="545.69" stroke="#000" stroke-width="3"/>
<line x1="168.3" y1="507.42" x2="186.7" y2="507.42" stroke="#000" stroke-width="3"/>
<line x1="177.5" y1="469.15" x2="186.7" y2="469.15" stroke="#000" stroke-width="3"/>
<line x1="168.3" y1="430.88" x2="186.7" y2="430.88" stroke="#000" stroke-width="3"/>
<line x1="177.5" y1="392.62" x2="186.7" y2="392.62" stroke="#000" stroke-width="3"/>
<line x1="168.3" y1="354.35" x2="186.7" y2="354.35" stroke="#000" stroke-width="3"/>
<line x1="177.5" y1="316.08" x2="186.7" y2="316.08" stroke="#000" stroke-width="3"/>
<line x1="168.3" y1="277.81" x2="186.7" y2="277.81" stroke="#000" stroke-width="3"/>
<line x1="177.5" y1="239.54" x2="186.7" y2="239.54" stroke="#000" stroke-width="3"/>
<line x1="168.3" y1="201.28" x2="186.7" y2="201.28" stroke="#000" stroke-width="3"/>
<line x1="177.5" y1="163.01" x2="186.7" y2="163.01" stroke="#000" stroke-width="3"/>
<line x1="168.3" y1="124.74" x2="186.7" y2="124.74" stroke="#000" stroke-width="3"/>
<line x1="177.5" y1="86.47" x2="186.7" y2="86.47" stroke="#000" stroke-width="3"/>
<line x1="168.3" y1="48.20" x2="186.7" y2="48.20" stroke="#000" stroke-width="3"/>
<line x1="186.70" y1="890.1" x2="186.70" y2="909.5" stroke="#000" stroke-width="3.2"/>
<line x1="277.75" y1="890.1" x2="277.75" y2="900.5" stroke="#000" stroke-width="3.2"/>
<line x1="368.80" y1="890.1" x2="368.80" y2="909.5" stroke="#000" stroke-width="3.2"/>
<line x1="459.85" y1="890.1" x2="459.85" y2="900.5" stroke="#000" stroke-width="3.2"/>
<line x1="550.90" y1="890.1" x2="550.90" y2="909.5" stroke="#000" stroke-width="3.2"/>
<line x1="641.95" y1="890.1" x2="641.95" y2="900.5" stroke="#000" stroke-width="3.2"/>
<line x1="733.00" y1="890.1" x2="733.00" y2="909.5" stroke="#000" stroke-width="3.2"/>
<line x1="824.05" y1="890.1" x2="824.05" y2="900.5" stroke="#000" stroke-width="3.2"/>
<line x1="915.10" y1="890.1" x2="915.10" y2="909.5" stroke="#000" stroke-width="3.2"/>
<line x1="1007.40" y1="890.1" x2="1007.40" y2="900.5" stroke="#000" stroke-width="3.2"/>
<line x1="747" y1="38.7" x2="842.5" y2="38.7" stroke="#000000" stroke-width="2"/>
<line x1="747" y1="90.2" x2="842.5" y2="90.2" stroke="#ff0000" stroke-width="2"/>
<line x1="747" y1="141.6" x2="842.5" y2="141.6" stroke="#00ff00" stroke-width="2"/>
<line x1="747" y1="193.1" x2="842.5" y2="193.1" stroke="#0000ff" stroke-width="2"/>
<line x1="747" y1="244.6" x2="842.5" y2="244.6" stroke="#00ffff" stroke-width="2"/>
<line x1="747" y1="296.1" x2="842.5" y2="296.1" stroke="#ff00ff" stroke-width="2"/>
<line x1="747" y1="347.5" x2="842.5" y2="347.5" stroke="#ffff00" stroke-width="2"/>
<line x1="747" y1="399.0" x2="842.5" y2="399.0" stroke="#808000" stroke-width="2"/>
<rect x="309.5" y="46.8" width="19.7" height="17.2" fill="#000"/>
<rect x="309.4" y="113" width="20.5" height="18.2" fill="none" stroke="#000" stroke-width="2.6"/>
<ellipse cx="317.7" cy="189" rx="9.1" ry="7.8" fill="none" stroke="#000" stroke-width="2.2"/>
<ellipse cx="317.7" cy="254.2" rx="10" ry="9" fill="#000"/>
<ellipse cx="612.7" cy="35" rx="10" ry="8.2" fill="none" stroke="#000" stroke-width="3"/>
<rect x="635" y="426" width="13" height="14" fill="none" stroke="#000" stroke-width="3.4"/>
<rect x="623.8" y="445.7" width="13.1" height="15.1" fill="#000"/>
<ellipse cx="749" cy="443" rx="9.1" ry="9.6" fill="#000"/>
<text x="158" y="900.7" text-anchor="end" class="tk">0</text>
<text x="158" y="824.0" text-anchor="end" class="tk">200</text>
<text x="158" y="747.3" text-anchor="end" class="tk">400</text>
<text x="158" y="670.6" text-anchor="end" class="tk">600</text>
<text x="158" y="593.9" text-anchor="end" class="tk">800</text>
<text x="158" y="517.2" text-anchor="end" class="tk">1000</text>
<text x="158" y="440.5" text-anchor="end" class="tk">1200</text>
<text x="158" y="363.8" text-anchor="end" class="tk">1400</text>
<text x="158" y="287.1" text-anchor="end" class="tk">1600</text>
<text x="158" y="210.4" text-anchor="end" class="tk">1800</text>
<text x="158" y="133.7" text-anchor="end" class="tk">2000</text>
<text x="158" y="57.0" text-anchor="end" class="tk">2200</text>
<text x="186.7" y="946.4" text-anchor="middle" class="tk">20</text>
<text x="368.8" y="946.4" text-anchor="middle" class="tk">30</text>
<text x="550.9" y="946.4" text-anchor="middle" class="tk">40</text>
<text x="733.0" y="946.4" text-anchor="middle" class="tk">50</text>
<text x="915.1" y="946.4" text-anchor="middle" class="tk">60</text>
<text transform="translate(848.95,52.30) scale(1.0516,1.0194)" class="bs">RT</text>
<text transform="translate(848.03,102.20) scale(1.0836,1.0000)" class="bs">300</text>
<text transform="translate(935.69,80.80) scale(1.2091,0.9250)" class="bs" style="font-size:26px">o</text>
<text transform="translate(951.21,102.40) scale(1.0964,0.9903)" class="bs">C</text>
<text transform="translate(848.03,153.95) scale(1.0836,1.0000)" class="bs">400</text>
<text transform="translate(935.69,132.55) scale(1.2091,0.9250)" class="bs" style="font-size:26px">o</text>
<text transform="translate(951.21,154.15) scale(1.0964,0.9903)" class="bs">C</text>
<text transform="translate(848.03,205.70) scale(1.0836,1.0000)" class="bs">500</text>
<text transform="translate(935.69,184.30) scale(1.2091,0.9250)" class="bs" style="font-size:26px">o</text>
<text transform="translate(951.21,205.90) scale(1.0964,0.9903)" class="bs">C</text>
<text transform="translate(848.03,257.45) scale(1.0836,1.0000)" class="bs">600</text>
<text transform="translate(935.69,236.05) scale(1.2091,0.9250)" class="bs" style="font-size:26px">o</text>
<text transform="translate(951.21,257.65) scale(1.0964,0.9903)" class="bs">C</text>
<text transform="translate(848.03,309.20) scale(1.0836,1.0000)" class="bs">700</text>
<text transform="translate(935.69,287.80) scale(1.2091,0.9250)" class="bs" style="font-size:26px">o</text>
<text transform="translate(951.21,309.40) scale(1.0964,0.9903)" class="bs">C</text>
<text transform="translate(848.03,360.95) scale(1.0836,1.0000)" class="bs">750</text>
<text transform="translate(935.69,339.55) scale(1.2091,0.9250)" class="bs" style="font-size:26px">o</text>
<text transform="translate(951.21,361.15) scale(1.0964,0.9903)" class="bs">C</text>
<text transform="translate(848.03,412.70) scale(1.0836,1.0000)" class="bs">800</text>
<text transform="translate(935.69,391.30) scale(1.2091,0.9250)" class="bs" style="font-size:26px">o</text>
<text transform="translate(951.21,412.90) scale(1.0964,0.9903)" class="bs">C</text>
<text transform="translate(343.72,62.50) scale(1.0387,1.0000)" class="bs">Cu<tspan font-size="29" font-weight="normal" stroke="#000" stroke-width="0.3" dy="12">3</tspan><tspan dy="-12">Si(012)</tspan></text>
<text transform="translate(338.43,128.80) scale(1.0363,1.0000)" class="bs">Cu<tspan font-size="29" font-weight="normal" stroke="#000" stroke-width="0.3" dy="12">3</tspan><tspan dy="-12">Si(300)</tspan></text>
<text transform="translate(336.25,196.30) scale(1.0765,1.0000)" class="bs">Cu(111)</text>
<text transform="translate(331.14,261.30) scale(1.0310,1.0000)" class="bs">Cu(200)</text>
<text transform="translate(40.54,531.73) rotate(-90) scale(1.0143,1.0357)" class="bs">Intensity</text>
<text transform="translate(592.96,997.40) scale(1.1182,0.9576)" class="bs">2θ</text>
</svg>
</body></html>
